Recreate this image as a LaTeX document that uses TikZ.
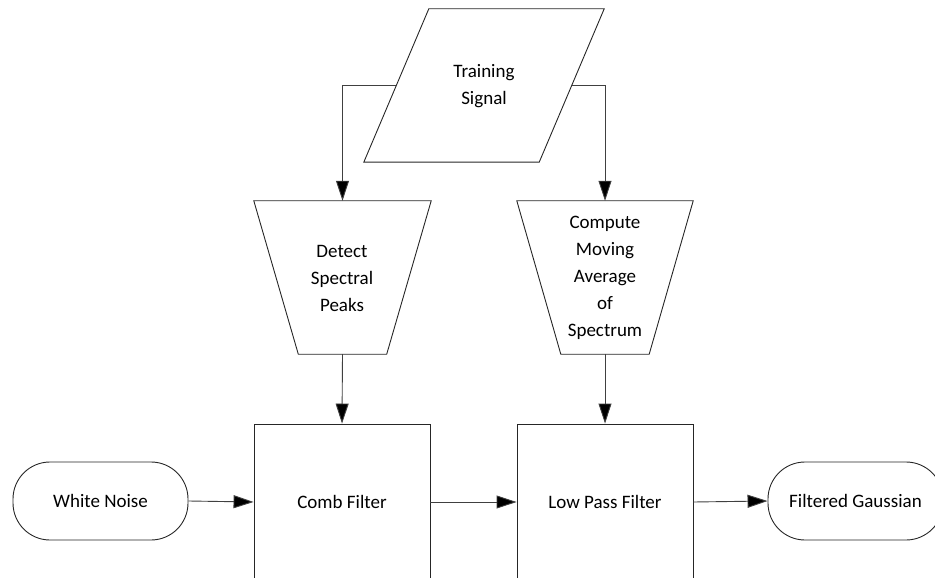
\documentclass[tikz,border=0pt]{standalone}
\usepackage{fontspec}
\setmainfont{Carlito}
\usetikzlibrary{arrows.meta,calc}
\begin{document}
\begin{tikzpicture}[x=1bp,y=-1bp,
  shapeline/.style={draw=black!85,line width=0.9bp},
  lbl/.style={align=center,font=\fontsize{19bp}{27bp}\selectfont,inner sep=0pt},
  hidden/.style={draw=none,inner sep=0pt},
  conn/.style={draw=black!75,line width=0.9bp,-{Triangle[length=20bp,width=13bp,fill=black]}},
  boxstyle/.style={shapeline,minimum width=176bp,minimum height=156bp,inner sep=0pt},
  termstyle/.style={shapeline,rounded corners=37bp,minimum width=175bp,minimum height=78bp,inner sep=0pt}]
\useasboundingbox (0,0) rectangle (935,578);
\clip (0,0) rectangle (935,578);
% parallelogram
\node[hidden,minimum width=240bp,minimum height=153bp] (ts) at (484,85.5) {};
\draw[shapeline] ($(ts.north west)+(65,0)$) -- (ts.north east) -- ($(ts.south east)+(-65,0)$) -- (ts.south west) -- cycle;
\node[lbl] (tstext) at (484,86) {Training\\Signal};
\coordinate (tsL) at ($(ts.west)+(32.5,0)$);
\coordinate (tsR) at ($(ts.east)+(-32.5,0)$);
% trapezoids
\node[hidden,minimum width=177bp,minimum height=153bp] (t1) at (342.5,277.5) {};
\draw[shapeline] (t1.north west) -- (t1.north east) -- ($(t1.south east)+(-44.5,0)$) -- ($(t1.south west)+(44.5,0)$) -- cycle;
\node[lbl] (t1text) at (342,278) {Detect\\Spectral\\Peaks};
\node[hidden,minimum width=176bp,minimum height=153bp] (t2) at (605,277.5) {};
\draw[shapeline] (t2.north west) -- (t2.north east) -- ($(t2.south east)+(-44,0)$) -- ($(t2.south west)+(44,0)$) -- cycle;
\node[lbl] (t2text) at (605,278) {Compute\\Moving\\Average\\of\\Spectrum};
% boxes
\node[boxstyle] (comb) at (342,502) {};
\node[lbl] (combtext) at (342,502) {Comb Filter};
\node[boxstyle] (lpf) at (605,502) {};
\node[lbl] (lpftext) at (605,502) {Low Pass Filter};
% terminals
\node[termstyle] (wn) at (100.5,501) {};
\node[lbl] (wntext) at (100.5,501) {White Noise};
\node[termstyle] (fg) at (855.5,501) {};
\node[lbl] (fgtext) at (855.5,501) {Filtered Gaussian};
% connectors
\draw[conn] (tsL) -| (t1.north);
\draw[conn] (tsR) -| (t2.north);
\draw[conn] (t1.south) -- (comb.north);
\draw[conn] (t2.south) -- (lpf.north);
\draw[conn] (wn.east) -- (comb.west);
\draw[conn] (comb.east) -- (lpf.west);
\draw[conn] (lpf.east) -- (fg.west);
\end{tikzpicture}
\end{document}
